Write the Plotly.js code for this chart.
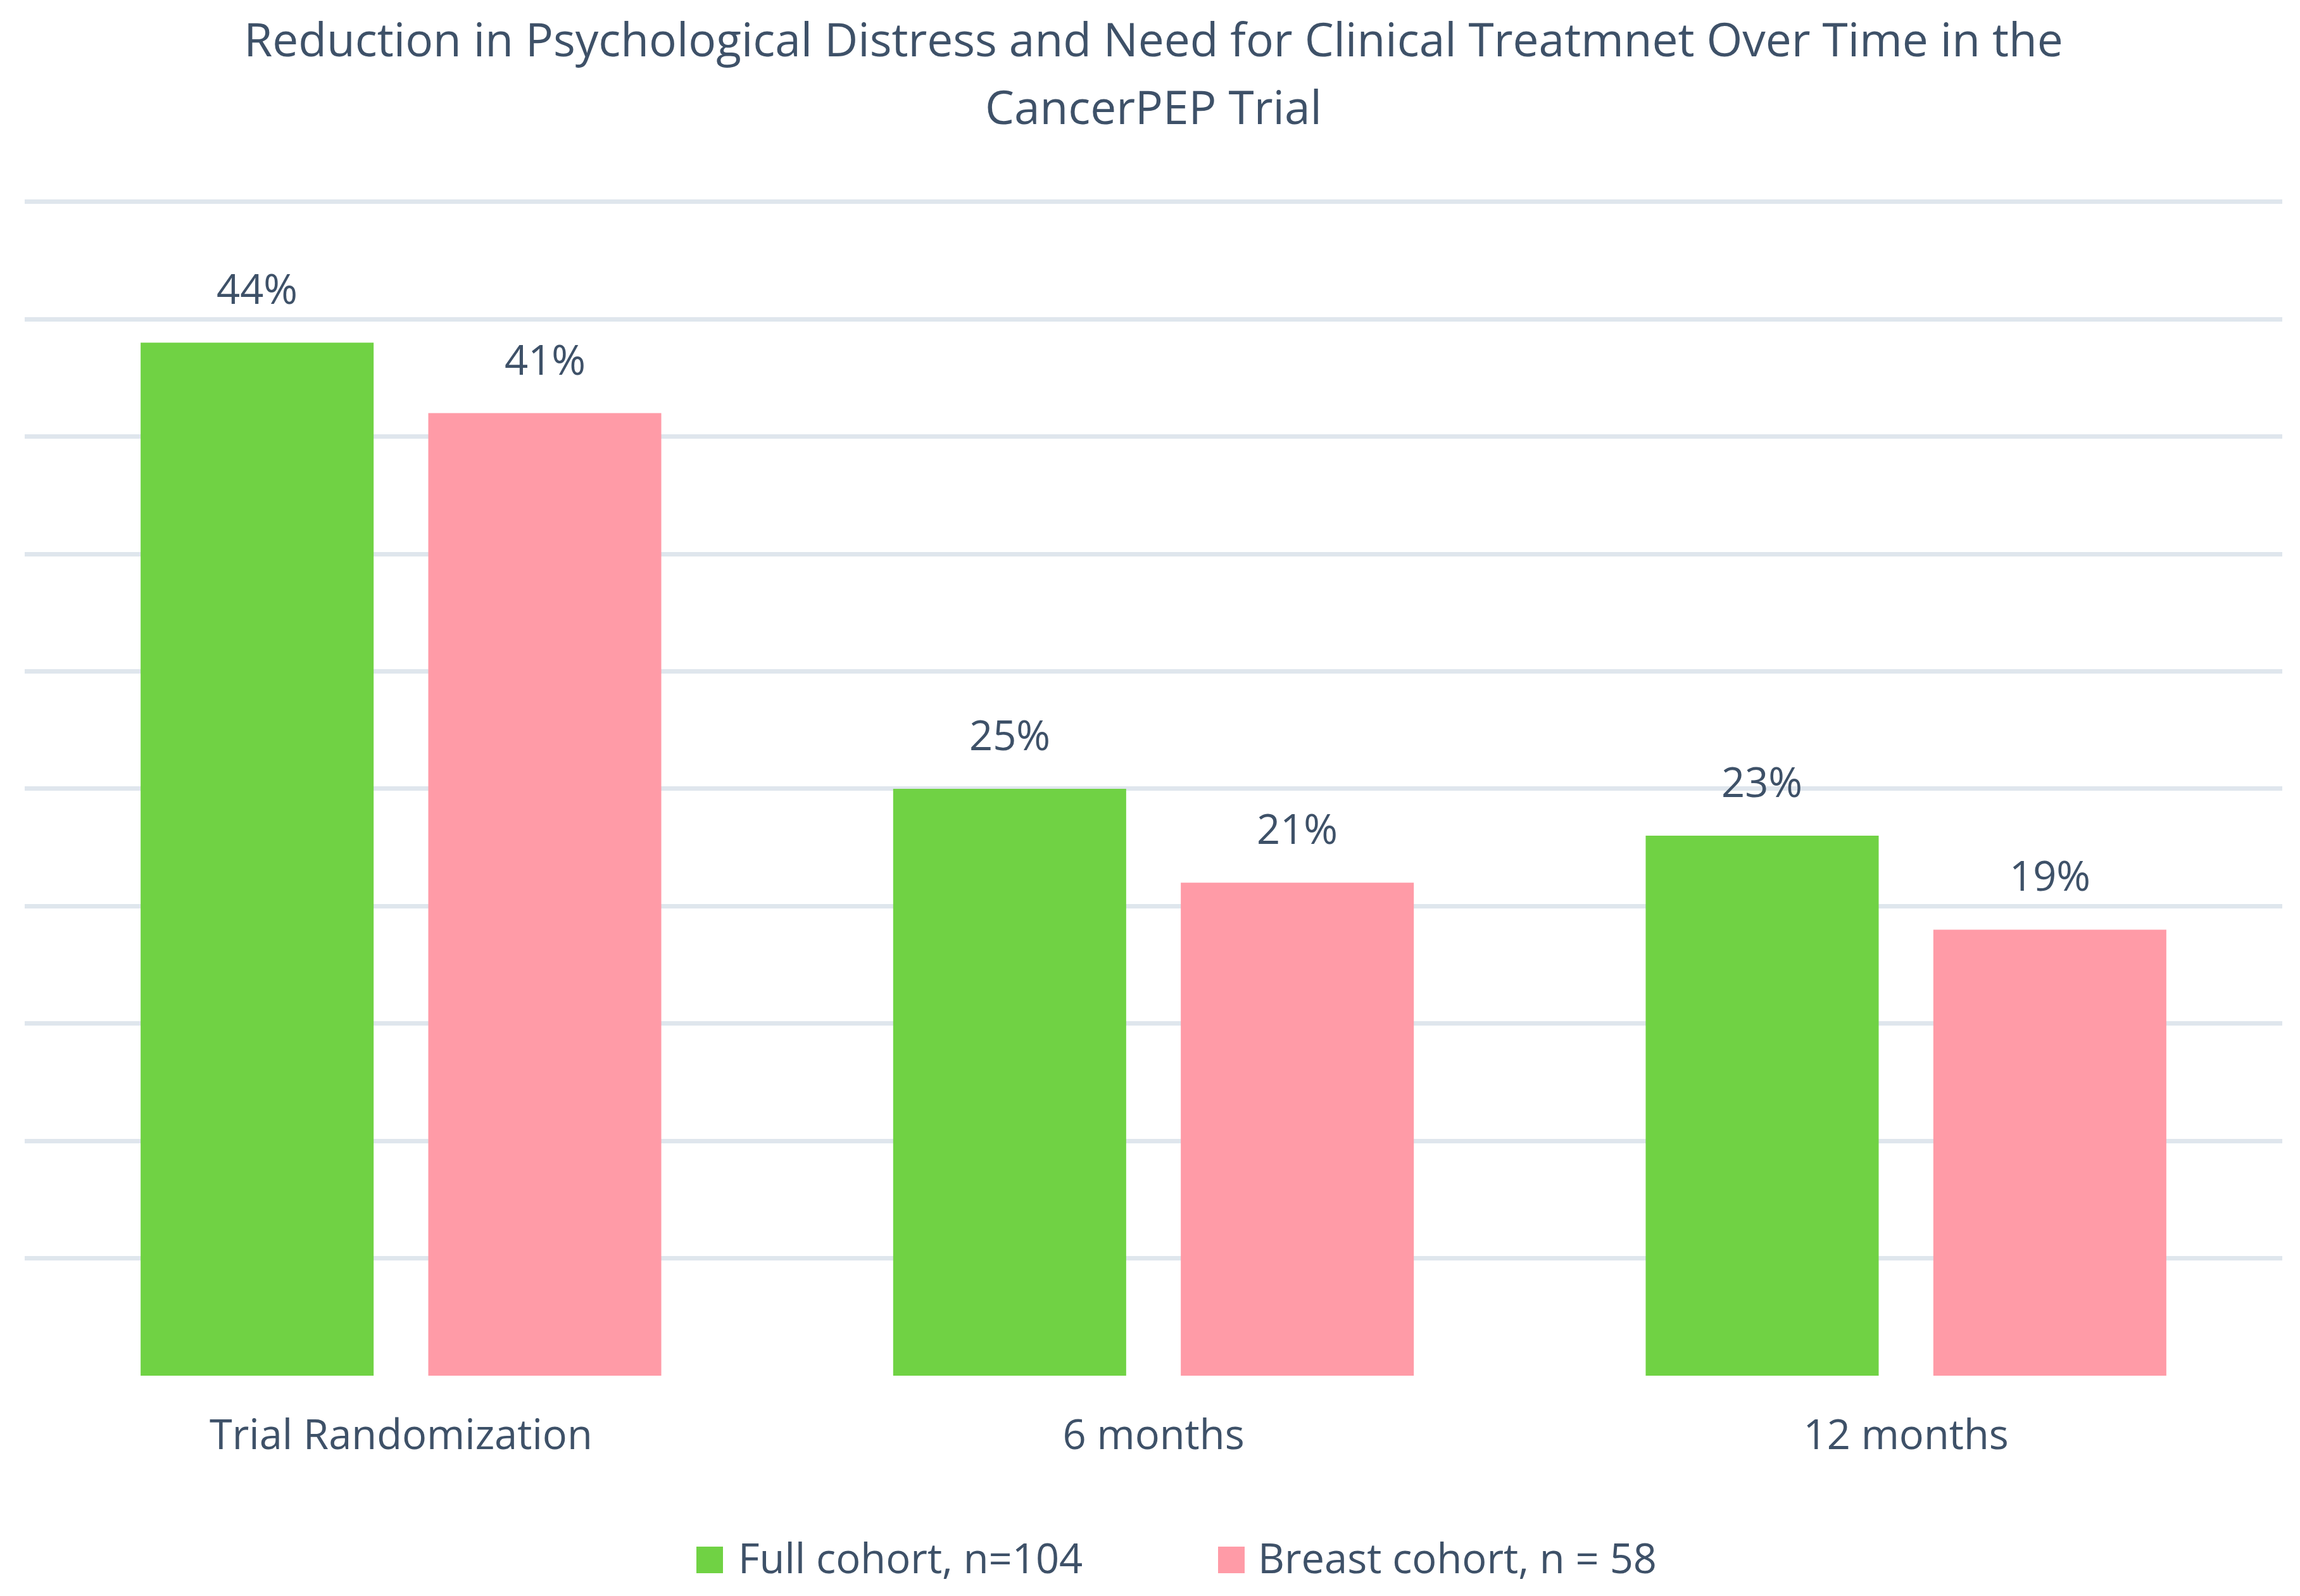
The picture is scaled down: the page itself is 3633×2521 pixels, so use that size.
<!DOCTYPE html>
<html>
<head>
<meta charset="utf-8">
<script src="https://cdn.plot.ly/plotly-3.0.1.min.js"></script>
<style>html,body{margin:0;padding:0;background:#fff;}#chart{width:3633px;height:2521px;}</style>
</head>
<body>
<div id="chart"></div>
<script>
const categories = ['Trial Randomization', '6 months', '12 months'];
const seriesNames = ['Full cohort, n=104', 'Breast cohort, n = 58'];
const fullCohort = [0.44, 0.25, 0.23];
const breastCohort = [0.41, 0.21, 0.19];
const seriesColors = ['#70D244', '#FF9BA7'];
const titleLines = ['Reduction in Psychological Distress and Need for Clinical Treatmnet Over Time in the', 'CancerPEP Trial'];

const textColor = '#3E5168';
const fontFamily = 'Open Sans, sans-serif';
const fontSize = 65;
const titleSize = 73;

const W = 3633, H = 2521;
const margin = {l: 39, r: 28, t: 317, b: 348};
const plotW = W - margin.l - margin.r;
const plotH = H - margin.t - margin.b;
const px2x = p => (p - margin.l) / plotW;
const py2y = p => (H - margin.b - p) / plotH;

const bargap = 0.2355, bargroupgap = 0.19;
const catW = plotW / categories.length;
const slot = catW * (1 - bargap) / 2;

const allSeries = [fullCohort, breastCohort];
const traces = allSeries.map((vals, i) => ({
  type: 'bar',
  name: seriesNames[i],
  x: categories,
  y: vals,
  marker: {color: seriesColors[i], line: {width: 0}},
  showlegend: false,
  hovertemplate: '%{x}: %{y:.0%}<extra>' + seriesNames[i] + '</extra>'
}));

const annotations = [];
allSeries.forEach((vals, i) => {
  vals.forEach((v, j) => {
    annotations.push({
      x: categories[j], y: v, xref: 'x', yref: 'y',
      xshift: (i === 0 ? -1 : 1) * slot / 2,
      yshift: 40,
      yanchor: 'bottom', xanchor: 'center',
      text: Math.round(v * 100) + '%',
      showarrow: false,
      font: {family: fontFamily, size: fontSize, color: textColor}
    });
  });
});

// second title line
annotations.push({
  xref: 'paper', yref: 'paper', x: 0.5, y: py2y(168),
  xanchor: 'center', yanchor: 'middle',
  text: titleLines[1], showarrow: false,
  font: {family: fontFamily, size: titleSize, color: textColor}
});

// custom legend (large swatches)
const legendSwatchX = [1100, 1924];
const legendTextX = [1164, 1985];
const legendTop = 2443, legendBottom = 2485;
const shapes = [];
seriesNames.forEach((name, i) => {
  shapes.push({
    type: 'rect', xref: 'paper', yref: 'paper',
    x0: px2x(legendSwatchX[i]), x1: px2x(legendSwatchX[i] + 42),
    y0: py2y(legendBottom), y1: py2y(legendTop),
    fillcolor: seriesColors[i], line: {width: 0}
  });
  annotations.push({
    xref: 'paper', yref: 'paper',
    x: px2x(legendTextX[i]), y: py2y((legendTop + legendBottom) / 2),
    xanchor: 'left', yanchor: 'middle', yshift: 4,
    text: name, showarrow: false,
    font: {family: fontFamily, size: fontSize, color: textColor}
  });
});

const layout = {
  width: W, height: H,
  margin: margin,
  paper_bgcolor: '#FFFFFF', plot_bgcolor: '#FFFFFF',
  font: {family: fontFamily, size: fontSize, color: textColor},
  title: {
    text: titleLines[0],
    font: {family: fontFamily, size: titleSize, color: textColor},
    x: 0.5, xref: 'paper', xanchor: 'center',
    y: 1 - 38 / H, yref: 'container', yanchor: 'top'
  },
  barmode: 'group',
  bargap: bargap,
  bargroupgap: bargroupgap,
  showlegend: false,
  xaxis: {
    type: 'category',
    showgrid: false, showline: false, zeroline: false,
    ticks: '',
    ticklabelstandoff: 50,
    tickfont: {family: fontFamily, size: fontSize, color: textColor}
  },
  yaxis: {
    range: [0, 0.5005],
    tick0: 0, dtick: 0.05,
    showticklabels: false,
    showgrid: true, gridcolor: '#DFE6ED', gridwidth: 7,
    zeroline: false, showline: false, ticks: ''
  },
  annotations: annotations,
  shapes: shapes
};

Plotly.newPlot('chart', traces, layout, {displayModeBar: false, staticPlot: true});
</script>
</body>
</html>
